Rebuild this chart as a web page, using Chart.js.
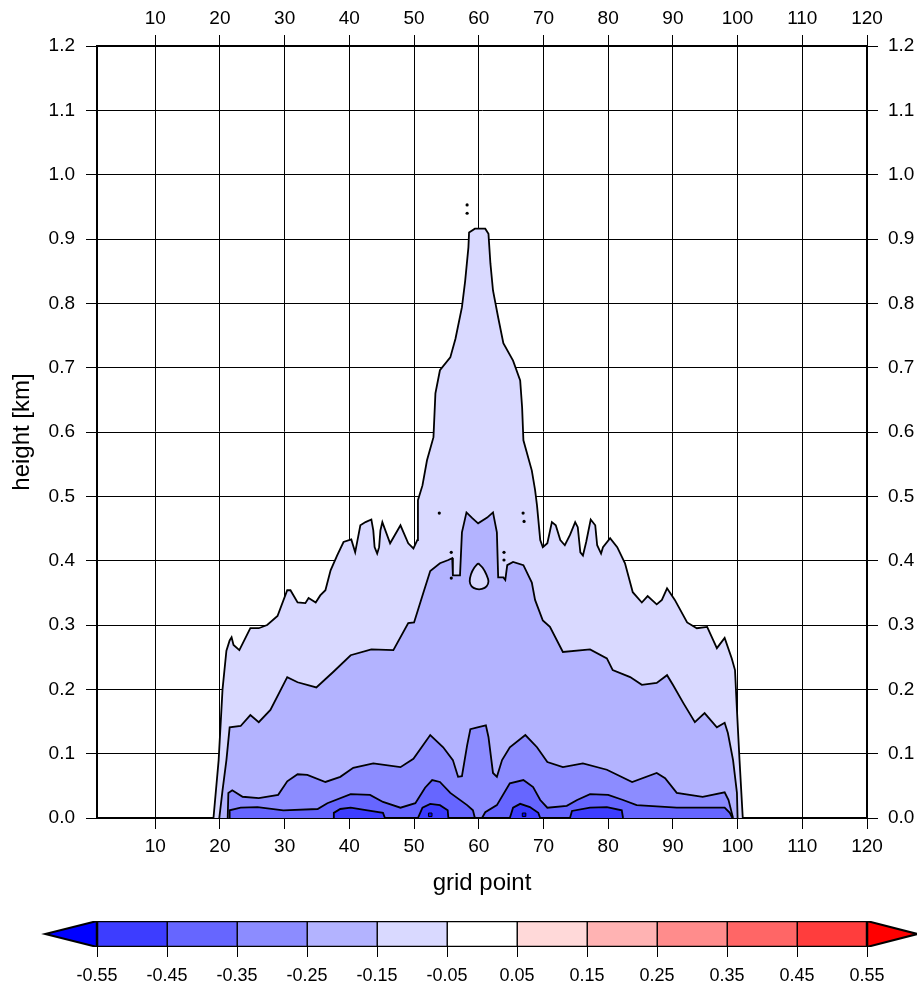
<!DOCTYPE html>
<html>
<head>
<meta charset="utf-8">
<script src="https://cdn.jsdelivr.net/npm/chart.js@4.4.1/dist/chart.umd.min.js"></script>
<style>
  body { margin: 0; background: #fff; }
  #plot { position: absolute; left: 0; top: 0; }
  #bar { position: absolute; left: 0; top: 900px; }
</style>
</head>
<body>
<canvas id="plot" width="917" height="900"></canvas>
<canvas id="bar" width="917" height="92"></canvas>
<script>
// contour levels and colours of the colour bar
var levels = [-0.55, -0.45, -0.35, -0.25, -0.15, -0.05, 0.05, 0.15, 0.25, 0.35, 0.45, 0.55];
var barColors = ['#3d3dff', '#6666ff', '#8c8cff', '#b3b3ff', '#d9d9ff', '#ffffff',
                 '#ffd9d9', '#ffb3b3', '#ff8c8c', '#ff6666', '#ff3d3d'];
var lowColor = '#0000ff';
var highColor = '#ff0000';

// contour outlines, [grid point, height km]
var contour005 = [[19.0,0],[19.8,0.09],[20.4,0.2],[21.0,0.26],[21.5,0.276],[21.8,0.281],[22.1,0.269],[23.0,0.261],
  [24.7,0.295],[26.0,0.295],[27.3,0.3],[28.9,0.314],[30.4,0.354],[30.9,0.354],[32.0,0.335],[33.2,0.334],[33.7,0.342],
  [34.8,0.335],[35.5,0.346],[36.3,0.354],[37.1,0.385],[38.1,0.408],[39.1,0.429],[40.3,0.433],[40.9,0.413],[41.7,0.455],
  [42.5,0.46],[43.4,0.464],[43.7,0.447],[43.9,0.421],[44.3,0.411],[44.6,0.421],[44.8,0.447],[45.1,0.46],[46.3,0.427],
  [47.9,0.455],[49.1,0.427],[49.9,0.419],[50.5,0.432],[50.6,0.494],[51.3,0.517],[52.0,0.556],[53.0,0.592],[53.3,0.66],
  [54.0,0.696],[55.6,0.716],[56.4,0.745],[57.4,0.794],[57.9,0.835],[58.4,0.887],[58.5,0.91],[59.4,0.916],[61.0,0.916],
  [61.5,0.908],[61.8,0.862],[62.2,0.82],[63.0,0.778],[63.8,0.738],[65.3,0.711],[66.4,0.68],[66.7,0.638],[66.9,0.587],
  [68.2,0.54],[68.7,0.51],[69.0,0.486],[69.5,0.432],[69.9,0.421],[70.6,0.427],[71.3,0.46],[71.9,0.455],[72.6,0.432],
  [73.3,0.424],[74.1,0.44],[74.9,0.46],[75.3,0.452],[75.7,0.413],[76.1,0.408],[76.6,0.429],[77.3,0.464],[78.0,0.455],
  [78.3,0.424],[78.9,0.411],[79.2,0.421],[80.3,0.435],[81.4,0.421],[82.6,0.396],[83.8,0.351],[85.2,0.335],[86.1,0.345],
  [87.5,0.332],[88.3,0.339],[89.1,0.357],[90.3,0.339],[92.2,0.304],[93.7,0.295],[95.3,0.297],[96.8,0.264],[98.0,0.28],
  [99.1,0.248],[99.6,0.23],[99.9,0.168],[100.3,0.09],[100.8,0]];

var contour015 = [[19.9,0],[20.4,0.043],[21.0,0.09],[21.5,0.141],[23.2,0.143],[24.7,0.16],[26.0,0.149],[27.8,0.168],
  [30.4,0.219],[32.0,0.211],[34.9,0.203],[37.5,0.227],[40.2,0.253],[43.4,0.262],[46.8,0.261],[49.1,0.303],[50.0,0.304],
  [51.4,0.349],[52.5,0.384],[54.0,0.396],[55.3,0.401],[55.9,0.404],[56.0,0.377],[57.1,0.377],[57.4,0.444],[58.1,0.475],
  [59.0,0.466],[59.9,0.458],[61.3,0.467],[62.2,0.475],[62.8,0.444],[63.0,0.374],[63.8,0.374],[64.1,0.37],[64.4,0.393],
  [65.3,0.398],[66.9,0.393],[68.2,0.366],[68.7,0.339],[69.9,0.307],[71.0,0.297],[73.0,0.258],[77.2,0.262],[79.8,0.248],
  [80.7,0.23],[83.4,0.219],[85.2,0.207],[87.5,0.21],[89.1,0.222],[90.0,0.207],[91.6,0.179],[93.4,0.149],[94.9,0.163],
  [96.8,0.141],[98.0,0.148],[98.5,0.132],[99.3,0.09],[99.9,0.039],[100.0,0]];

var hole015 = [[59.9,0.396],[60.6,0.389],[61.2,0.378],[61.5,0.368],[61.2,0.36],[60.5,0.356],[59.6,0.356],[58.9,0.36],
  [58.6,0.368],[58.8,0.379],[59.3,0.389],[59.9,0.396]];

var contour025 = [[21.2,0],[21.3,0.039],[21.9,0.043],[23.5,0.033],[26.0,0.031],[29.0,0.036],[30.4,0.057],[32.0,0.068],
  [33.5,0.067],[36.3,0.056],[38.6,0.064],[40.6,0.078],[43.7,0.085],[47.9,0.079],[49.9,0.092],[52.5,0.129],[54.5,0.11],
  [56.0,0.09],[56.8,0.064],[57.4,0.065],[58.2,0.113],[58.7,0.138],[59.8,0.141],[61.1,0.144],[61.5,0.126],[62.2,0.07],
  [62.8,0.064],[63.6,0.09],[64.8,0.11],[67.2,0.129],[69.0,0.11],[70.6,0.087],[73.0,0.079],[76.1,0.085],[79.8,0.075],
  [83.7,0.056],[87.5,0.07],[88.8,0.062],[90.6,0.039],[94.6,0.033],[98.0,0.04],[98.6,0.028],[99.1,0.008],[99.3,0]];

var contour035 = [[21.4,0],[21.5,0.012],[23.2,0.016],[25.8,0.017],[29.8,0.012],[35.1,0.014],[36.6,0.023],[40.2,0.037],
  [43.2,0.036],[45.2,0.025],[47.9,0.016],[50.2,0.023],[51.7,0.047],[52.8,0.059],[54.0,0.056],[55.6,0.039],[58.2,0.02],
  [59.1,0.012],[59.4,0],[60.5,0],[61.0,0.009],[62.8,0.02],[64.8,0.054],[66.9,0.059],[68.4,0.048],[69.5,0.028],
  [70.6,0.016],[73.6,0.019],[75.2,0.028],[77.2,0.037],[80.0,0.036],[82.3,0.028],[84.4,0.02],[90.6,0.016],[98.0,0.016],
  [98.8,0.008],[99.2,0]];

var contour045 = [[37.5,0],[37.6,0.008],[38.6,0.014],[40.2,0.016],[42.8,0.012],[45.2,0.008],[45.5,0],
  [50.6,0],[51.3,0.016],[52.5,0.022],[54.0,0.02],[55.2,0.012],[55.3,0],
  [64.8,0],[65.3,0.016],[66.4,0.022],[67.9,0.017],[69.2,0.008],[69.5,0],
  [74.1,0],[74.4,0.011],[77.2,0.016],[79.8,0.017],[82.1,0.012],[82.3,0]];

var spots055 = [[52.5,0.005],[67.0,0.005]];

// tiny isolated contour blobs
var blobs = [[58.2,0.953],[58.2,0.94],[53.9,0.474],[66.85,0.474],[67.0,0.461],[55.75,0.413],[55.75,0.373],
  [63.9,0.413],[63.9,0.401]];

var font = "'Liberation Sans', Arial, Helvetica, sans-serif";

function pts(arr) {
  return arr.map(function(p) { return {x: p[0], y: p[1]}; });
}

function contourSet(arr, color, order) {
  return {
    data: pts(arr),
    backgroundColor: color,
    borderColor: '#000',
    borderWidth: 1.8,
    fill: 'origin',
    pointRadius: 0,
    tension: 0,
    order: order
  };
}

function tickFont() { return {family: font, size: 19}; }

function xAxis(pos, h) {
  return {
    type: 'linear', position: pos, min: 1, max: 120, z: 1,
    ticks: {stepSize: 10, includeBounds: false, color: '#000', font: tickFont(),
            padding: pos === 'top' ? 5 : 6, maxRotation: 0, autoSkip: false,
            callback: function(v) { return String(v); }},
    grid: {color: '#000', lineWidth: 1, tickLength: 11, drawOnChartArea: pos === 'bottom'},
    border: {color: '#000', width: 2},
    afterFit: function(s) { s.height = h; }
  };
}

function yAxis(pos, w) {
  return {
    type: 'linear', position: pos, min: 0, max: 1.2, z: 1,
    ticks: {stepSize: 0.1, color: '#000', font: tickFont(), padding: pos === 'left' ? 11 : 10,
            callback: function(v) { return v.toFixed(1); }},
    grid: {color: '#000', lineWidth: 1, tickLength: 11, drawOnChartArea: pos === 'left'},
    border: {color: '#000', width: 2},
    afterFit: function(s) { s.width = w; }
  };
}

var scales = {
  x: xAxis('bottom', 82),
  xTop: xAxis('top', 46),
  y: yAxis('left', 97),
  yRight: yAxis('right', 50)
};
scales.x.title = {display: true, text: 'grid point', color: '#000',
                  font: {family: font, size: 24}, padding: {top: 0, bottom: 2}};
scales.y.title = {display: true, text: 'height [km]', color: '#000',
                  font: {family: font, size: 24}, padding: {top: 8, bottom: 0}};

var datasets = [
  contourSet(contour005, barColors[4], 7),
  contourSet(contour015, barColors[3], 6),
  contourSet(contour025, barColors[2], 5),
  contourSet(contour035, barColors[1], 4),
  contourSet(contour045, barColors[0], 3),
  {data: pts(hole015), backgroundColor: barColors[4], borderColor: '#000', borderWidth: 1.8,
   fill: 'shape', pointRadius: 0, tension: 0.3, order: 2},
  {data: pts(spots055), showLine: false, pointStyle: 'rect', pointRadius: 2.5,
   pointBackgroundColor: lowColor, pointBorderColor: '#000', pointBorderWidth: 1, order: 1},
  {data: pts(blobs), showLine: false, pointRadius: 1.6, pointBackgroundColor: '#000',
   pointBorderColor: '#000', pointBorderWidth: 0, order: 0}
];

new Chart(document.getElementById('plot'), {
  type: 'line',
  data: {datasets: datasets},
  options: {
    responsive: false,
    animation: false,
    layout: {padding: 0},
    plugins: {legend: {display: false}, tooltip: {enabled: false}},
    scales: scales
  }
});

// colour bar: one box per interval plus the two end triangles
var tipLeft = -0.624, tipRight = 0.622;
var barSets = [];
for (var i = 0; i < barColors.length; i++) {
  var lo = levels[i], hi = levels[i + 1];
  barSets.push({
    data: pts([[lo, 0], [hi, 0], [hi, 1], [lo, 1], [lo, 0]]),
    backgroundColor: barColors[i], borderColor: '#000', borderWidth: 1,
    fill: 'shape', pointRadius: 0, tension: 0
  });
}
barSets.push({
  data: pts([[levels[0], 0], [tipLeft, 0.5], [levels[0], 1], [levels[0], 0]]),
  backgroundColor: lowColor, borderColor: '#000', borderWidth: 2, fill: 'shape', pointRadius: 0
});
barSets.push({
  data: pts([[levels[11], 0], [tipRight, 0.5], [levels[11], 1], [levels[11], 0]]),
  backgroundColor: highColor, borderColor: '#000', borderWidth: 2, fill: 'shape', pointRadius: 0
});
barSets.push({
  data: pts([[levels[0], 0], [levels[11], 0], [levels[11], 1], [levels[0], 1], [levels[0], 0]]),
  borderColor: '#000', borderWidth: 2.5, fill: false, pointRadius: 0, order: -1
});

new Chart(document.getElementById('bar'), {
  type: 'line',
  data: {datasets: barSets},
  options: {
    responsive: false,
    animation: false,
    layout: {padding: {top: 21, left: 0, right: 0, bottom: 0}},
    plugins: {legend: {display: false}, tooltip: {enabled: false}},
    scales: {
      x: {
        type: 'linear', bounds: 'data', min: -0.6886, max: 0.6214,
        afterBuildTicks: function(s) { s.ticks = levels.map(function(v) { return {value: v}; }); },
        ticks: {color: '#000', font: {family: font, size: 18}, padding: 8, maxRotation: 0, autoSkip: false,
                callback: function(v) { return v.toFixed(2); }},
        grid: {drawOnChartArea: false, tickLength: 10, color: '#000', lineWidth: 1},
        border: {display: false},
        afterFit: function(s) { s.height = 45; }
      },
      y: {type: 'linear', min: 0, max: 1, display: false}
    }
  }
});
</script>
</body>
</html>
